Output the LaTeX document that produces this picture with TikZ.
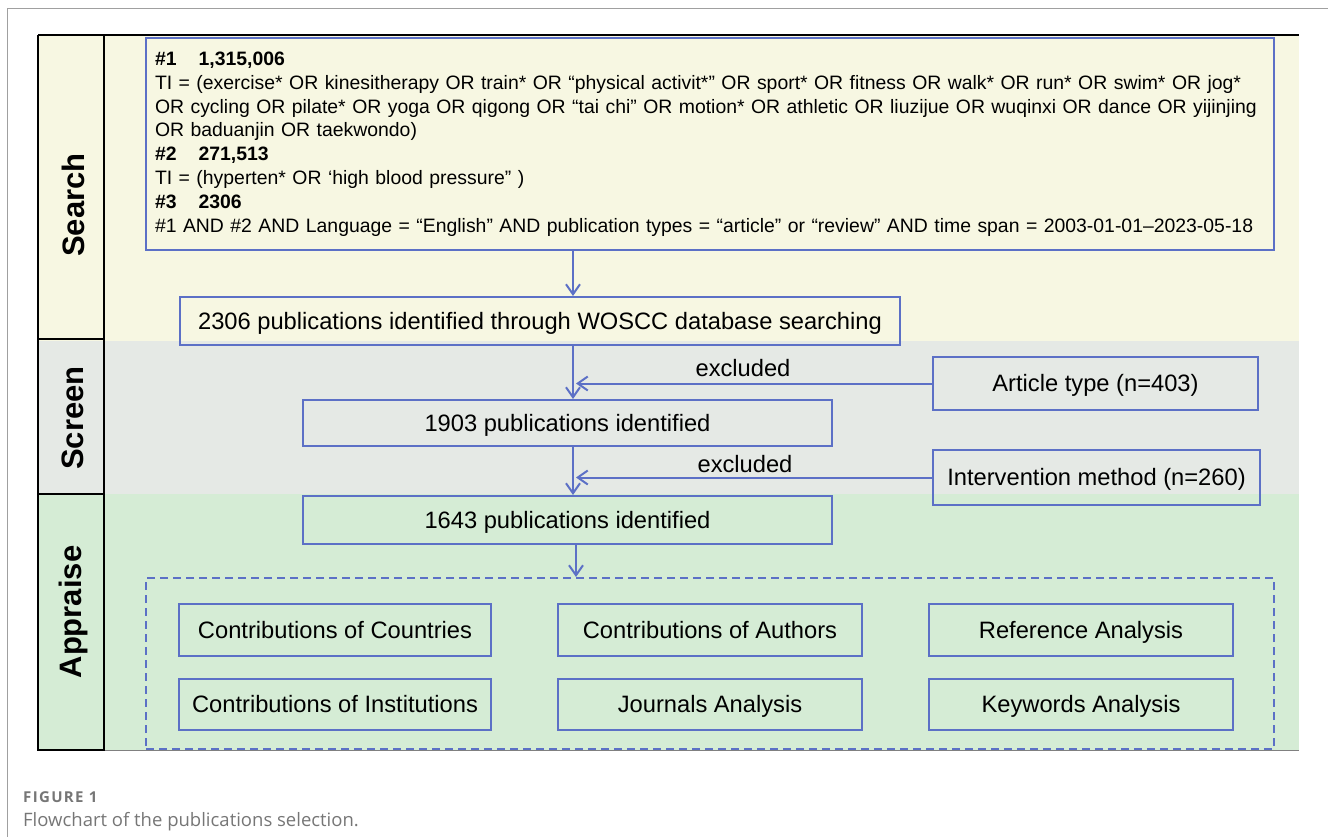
\documentclass[tikz,border=0pt]{standalone}
\usepackage{fontspec}
\setmainfont{Liberation Sans}
\newfontfamily\capfont{Open Sans}
\newfontfamily\capfontsp[LetterSpace=9]{Open Sans}
\usetikzlibrary{arrows.meta}
\definecolor{fblue}{RGB}{92,112,198}
\definecolor{bgY}{RGB}{247,247,226}
\definecolor{bgG}{RGB}{229,233,229}
\definecolor{bgN}{RGB}{213,236,213}
\definecolor{capgray}{RGB}{118,118,118}
\definecolor{framegray}{RGB}{160,160,160}
\begin{document}
\begin{tikzpicture}[x=1pt,y=-1pt,
  box/.style={draw=fblue, line width=2pt, inner sep=0pt, align=center,
    text height=16.5pt, text depth=0pt,
    font=\fontsize{23.7}{27}\selectfont},
  arr/.style={draw=fblue, line width=2pt, -{Straight Barb[length=10pt,width=14pt,line width=2pt]}},
  lane/.style={rotate=90, font=\fontsize{31}{36}\selectfont\bfseries},
  lbl/.style={font=\fontsize{23.7}{27}\selectfont, inner sep=0pt},
  lanerule/.style={black, line width=2.5pt}]
\useasboundingbox (0,0) rectangle (1328,837);
% outer frame
\draw[framegray, line width=1pt] (7,837) -- (7,9) -- (1328,9);
% lane backgrounds
\fill[bgY] (38,35) rectangle (1299,341);
\fill[bgG] (38,341) rectangle (1299,494);
\fill[bgN] (38,494) rectangle (1299,750);
\draw[gray, line width=0.8pt] (104,750) -- (1299,750);
\draw[lanerule] (38,35) -- (1299,35);
\draw[lanerule] (38,35) -- (38,750) -- (104,750) -- (104,35);
\draw[lanerule] (38,339) -- (104,339);
\draw[lanerule] (38,494) -- (104,494);
\node[lane] (lsearch) at (73,205) {Search};
\node[lane] (lscreen) at (73,418) {Screen};
\node[lane] (lappraise) at (73,612) {Appraise};
% query box
\node[draw=fblue, line width=2pt, minimum width=1128pt, minimum height=212pt, text width=1110pt, align=left,
  inner xsep=9pt, inner ysep=0pt, font=\fontsize{19.4}{23.8}\selectfont] (query) at (710,144)
{\hyphenpenalty=10000 \textbf{\#1\hspace{22pt}1,315,006}\\
TI = (exercise* OR kinesitherapy OR train* OR “physical activit*” OR sport* OR fitness OR walk* OR run* OR swim* OR jog*\\
OR cycling OR pilate* OR yoga OR qigong OR “tai chi” OR motion* OR athletic OR liuzijue OR wuqinxi OR dance OR yijinjing\\
OR baduanjin OR taekwondo)\\
\textbf{\#2\hspace{22pt}271,513}\\
TI = (hyperten* OR ‘high blood pressure” )\\
\textbf{\#3\hspace{22pt}2306}\\
\#1 AND \#2 AND Language = “English” AND publication types = “article” or “review” AND time span = 2003-01-01–2023-05-18};
% flow boxes
\node[box, minimum width=720pt, minimum height=48pt] (n2306) at (540,321) {2306 publications identified through WOSCC database searching};
\node[box, minimum width=529pt, minimum height=46pt] (n1903) at (567.5,423) {1903 publications identified};
\node[box, minimum width=529pt, minimum height=48pt] (n1643) at (567.5,520) {1643 publications identified};
\node[box, minimum width=325pt, minimum height=53pt] (art) at (1095.5,383.5) {Article type (n=403)};
\node[box, minimum width=327pt, minimum height=55pt] (int) at (1096.5,477.5) {Intervention method (n=260)};
% appraise group
\node[draw=fblue, line width=2pt, dash pattern=on 8pt off 5pt, minimum width=1128pt, minimum height=171pt, inner sep=0pt] (group) at (710,663.5) {};
\node[box, minimum width=312pt, minimum height=52pt] (cc) at (335,630) {Contributions of Countries};
\node[box, minimum width=304pt, minimum height=52pt] (ca) at (710,630) {Contributions of Authors};
\node[box, minimum width=304pt, minimum height=52pt] (ra) at (1081,630) {Reference Analysis};
\node[box, minimum width=312pt, minimum height=51pt] (ci) at (335,704.5) {Contributions of Institutions};
\node[box, minimum width=304pt, minimum height=51pt] (ja) at (710,704.5) {Journals Analysis};
\node[box, minimum width=304pt, minimum height=51pt] (ka) at (1081,704.5) {Keywords Analysis};
% connectors
\coordinate (spine) at (573,0);
\coordinate (spineb) at (576,0);
\draw[arr] (query.south -| spine) -- (n2306.north -| spine);
\draw[arr] (n2306.south -| spine) -- (n1903.north -| spine);
\draw[arr] (n1903.south -| spine) -- (n1643.north -| spine);
\draw[arr] (n1643.south -| spineb) -- (group.north -| spineb);
\draw[arr] (art.west) -- ([xshift=3pt]art.west -| spine);
\draw[arr] (int.west) -- ([xshift=3pt]int.west -| spine);
\node[lbl] (ex1) at (743,368) {excluded};
\node[lbl] (ex2) at (745,464) {excluded};
% caption
\node[anchor=base west, inner sep=0pt, text=capgray, font=\capfontsp\fontsize{15}{17}\selectfont\bfseries] (fig) at (23,802) {FIGURE 1};
\node[anchor=base west, inner sep=0pt, text=capgray, font=\capfont\fontsize{18.5}{22}\selectfont] (cap) at (23,826) {Flowchart of the publications selection.};
\end{tikzpicture}
\end{document}
